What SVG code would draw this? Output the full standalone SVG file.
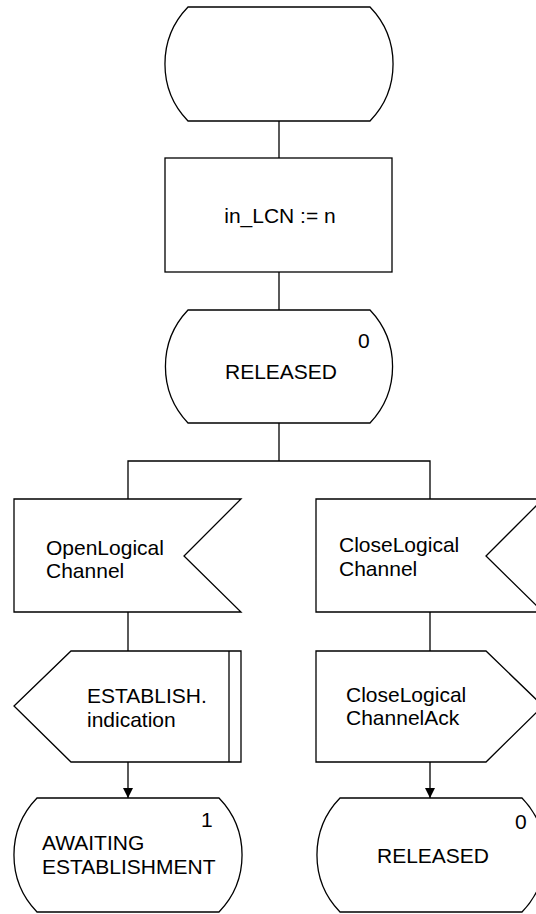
<svg xmlns="http://www.w3.org/2000/svg" width="536" height="914" viewBox="0 0 536 914">
<style>
.s{fill:#fff;stroke:#000;stroke-width:1.3}
.c{fill:none;stroke:#000;stroke-width:1.3}
text{font-family:"Liberation Sans",Arial,sans-serif;font-size:21px;fill:#000}
.m{text-anchor:middle}
</style>
<defs>
<marker id="ah" markerWidth="10" markerHeight="10" refX="10" refY="5" orient="auto" markerUnits="userSpaceOnUse">
<path d="M0,0 L10,5 L0,10 Z" fill="#000"/>
</marker>
</defs>
<rect width="536" height="914" fill="#fff"/>
<g id="connectors">
<path class="c" d="M279,121 V158"/>
<path class="c" d="M279,272 V310"/>
<path class="c" d="M279,423 V461"/>
<path class="c" d="M128,499 V461 H430 V499"/>
<path class="c" d="M128,612 V651"/>
<path class="c" d="M430,612 V651"/>
<path class="c" d="M128,762 V798" marker-end="url(#ah)"/>
<path class="c" d="M430,762 V798" marker-end="url(#ah)"/>
</g>
<g id="start">
<path class="s" d="M188,7 L370,7 A82,82 0 0 1 370,121 L188,121 A82,82 0 0 1 188,7 Z"/>
</g>
<g id="task">
<rect class="s" x="165" y="158" width="227" height="114"/>
<text class="m" x="280" y="223">in_LCN := n</text>
</g>
<g id="state_released_0">
<path class="s" d="M188,310 L370,310 A82,82 0 0 1 370,423 L188,423 A82,82 0 0 1 188,310 Z"/>
<text class="m" x="281" y="379">RELEASED</text>
<text x="358" y="348">0</text>
</g>
<g id="input_open">
<path class="s" d="M14,499 L241,499 L184,556 L241,612 L14,612 Z"/>
<text x="46" y="555">OpenLogical</text>
<text x="46" y="578">Channel</text>
</g>
<g id="input_close">
<path class="s" d="M316,499 L543,499 L486,556 L543,612 L316,612 Z"/>
<text x="339" y="552">CloseLogical</text>
<text x="339" y="576">Channel</text>
</g>
<g id="output_establish">
<path class="s" d="M71,651 L241,651 L241,762 L71,762 L14,706 Z"/>
<path class="c" d="M229,651 V762"/>
<text x="87" y="703">ESTABLISH.</text>
<text x="87" y="727">indication</text>
</g>
<g id="output_closeack">
<path class="s" d="M316,651 L486,651 L543,706 L486,762 L316,762 Z"/>
<text x="346" y="702">CloseLogical</text>
<text x="346" y="725">ChannelAck</text>
</g>
<g id="state_awaiting_1">
<path class="s" d="M37,798 L219,798 A82,82 0 0 1 219,912 L37,912 A82,82 0 0 1 37,798 Z"/>
<text x="42" y="850">AWAITING</text>
<text x="42" y="874">ESTABLISHMENT</text>
<text x="201" y="827">1</text>
</g>
<g id="state_released_end">
<path class="s" d="M340,798 L522,798 A82,82 0 0 1 522,912 L340,912 A82,82 0 0 1 340,798 Z"/>
<text class="m" x="433" y="863">RELEASED</text>
<text x="515" y="829">0</text>
</g>
</svg>
